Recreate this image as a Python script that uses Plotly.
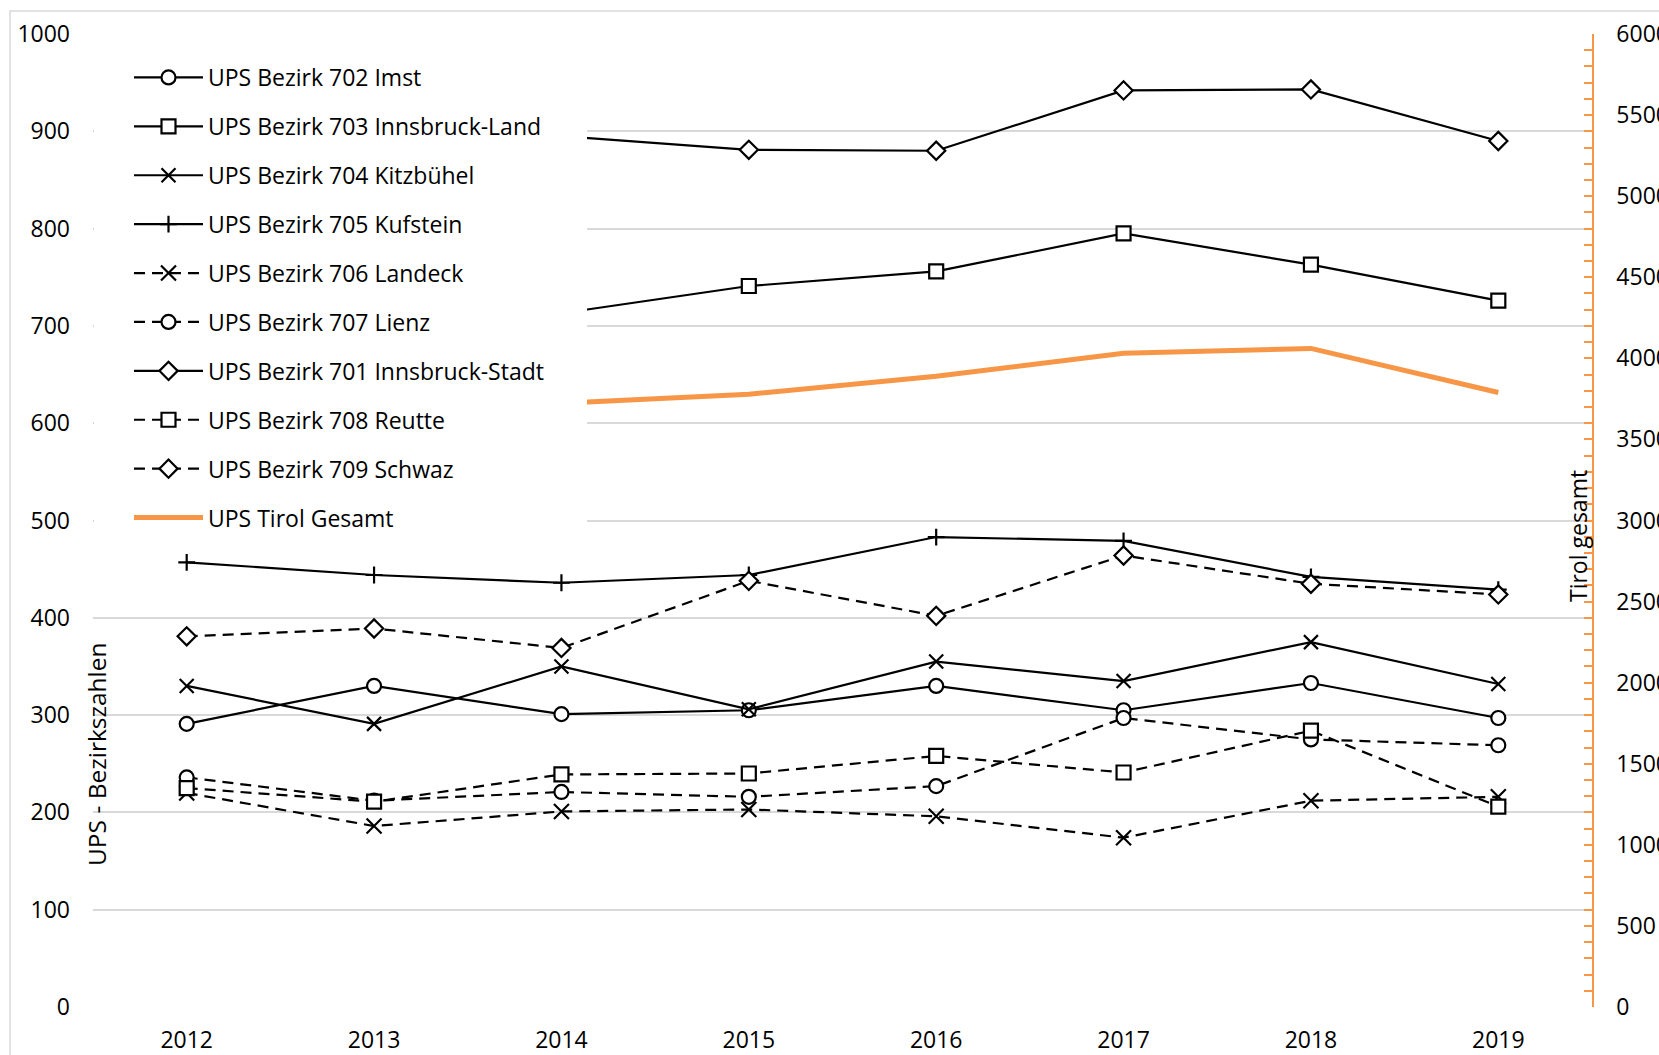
import plotly.graph_objects as go

# ---------------- data ----------------
years = ["2012", "2013", "2014", "2015", "2016", "2017", "2018", "2019"]

imst_702 = [291, 330, 301, 305, 330, 305, 333, 297]
ibk_land_703 = [690, 700, 713, 741, 756, 795, 763, 726]      # 2012/13 hidden behind legend (estimated)
kitzbuehel_704 = [330, 291, 350, 306, 355, 335, 375, 332]
kufstein_705 = [457, 444, 436, 444, 483, 479, 442, 429]
landeck_706 = [220, 186, 201, 203, 196, 174, 212, 216]
lienz_707 = [236, 212, 221, 216, 227, 297, 275, 269]
ibk_stadt_701 = [880, 890, 895, 881, 880, 942, 943, 890]      # 2012/13 hidden behind legend (estimated)
reutte_708 = [225, 211, 239, 240, 258, 241, 284, 206]
schwaz_709 = [381, 389, 369, 438, 402, 464, 435, 424]
tirol_gesamt = [3710, 3655, 3723, 3779, 3890, 4031, 4061, 3789]  # 2012/13 hidden (estimated)

left_ticks = [0, 100, 200, 300, 400, 500, 600, 700, 800, 900, 1000]
right_ticks = [0, 500, 1000, 1500, 2000, 2500, 3000, 3500, 4000, 4500, 5000, 5500, 6000]

# ---------------- layout geometry (pixels) ----------------
W, H = 1659, 1055
L, R, T, B = 93, 1592, 34, 1007
FONT = "Open Sans"
ORANGE = "#F79646"
GRID = "#D9D9D9"


def px_x(px):
    return (px - L) / (R - L)


def px_y(py):
    return (B - py) / (B - T)


series = [
    ("UPS Bezirk 702 Imst", imst_702, "circle", "solid", 14),
    ("UPS Bezirk 703 Innsbruck-Land", ibk_land_703, "square", "solid", 14),
    ("UPS Bezirk 704 Kitzbühel", kitzbuehel_704, "x-thin", "solid", 14),
    ("UPS Bezirk 705 Kufstein", kufstein_705, "cross-thin", "solid", 12),
    ("UPS Bezirk 706 Landeck", landeck_706, "x-thin", "dash", 15),
    ("UPS Bezirk 707 Lienz", lienz_707, "circle", "dash", 14),
    ("UPS Bezirk 701 Innsbruck-Stadt", ibk_stadt_701, "diamond", "solid", 14),
    ("UPS Bezirk 708 Reutte", reutte_708, "square", "dash", 14),
    ("UPS Bezirk 709 Schwaz", schwaz_709, "diamond", "dash", 14),
]

fig = go.Figure()

for name, vals, sym, dash, size in series:
    thin = sym.endswith("-thin")
    fig.add_trace(go.Scatter(
        x=years, y=vals, name=name, legendgroup=name,
        mode="lines+markers",
        line=dict(color="black", width=2.2, dash="11px,7px" if dash == "dash" else "solid"),
        marker=dict(symbol=sym, size=size,
                    color="black" if thin else "white",
                    line=dict(color="black", width=2.2)),
        yaxis="y",
    ))

fig.add_trace(go.Scatter(
    x=years, y=tirol_gesamt, name="UPS Tirol Gesamt", legendgroup="tirol",
    mode="lines", line=dict(color=ORANGE, width=5), yaxis="y2",
))

# white box that hides the lines behind the legend (as in the reference)
shapes = [
    dict(type="rect", xref="paper", yref="paper",
         x0=px_x(L + 1), x1=px_x(587), y0=px_y(540), y1=px_y(45),
         fillcolor="white", line=dict(width=0), layer="above"),
    # outer chart border
    dict(type="rect", xref="paper", yref="paper",
         x0=px_x(10), x1=px_x(1720), y0=px_y(1120), y1=px_y(11),
         fillcolor="rgba(0,0,0,0)", line=dict(color=GRID, width=1.5), layer="below"),
]

annotations = [
    dict(text="UPS - Bezirkszahlen", textangle=-90, xref="paper", yref="paper",
         x=px_x(96), y=px_y(754), xanchor="center", yanchor="middle",
         showarrow=False, font=dict(family=FONT, size=24.5, color="black")),
    dict(text="Tirol gesamt", textangle=-90, xref="paper", yref="paper",
         x=px_x(1578), y=px_y(536), xanchor="center", yanchor="middle",
         showarrow=False, font=dict(family=FONT, size=23, color="black")),
]

fig.update_layout(
    width=W, height=H,
    margin=dict(l=L, r=W - R, t=T, b=H - B, pad=0),
    paper_bgcolor="white", plot_bgcolor="white",
    font=dict(family=FONT, size=23, color="black"),
    showlegend=True,
    legend=dict(
        x=px_x(129), y=px_y(56), xanchor="left", yanchor="top",
        bgcolor="rgba(0,0,0,0)", borderwidth=0,
        font=dict(family=FONT, size=23, color="black"),
        itemwidth=69, tracegroupgap=16,
        traceorder="grouped",
    ),
    xaxis=dict(
        type="category", categoryorder="array", categoryarray=years,
        range=[-0.5, 7.5], showgrid=False, showline=False, zeroline=False,
        ticks="", tickfont=dict(size=23), ticklabelstandoff=17, automargin=False,
    ),
    yaxis=dict(
        range=[0, 1000], tickvals=left_ticks, showgrid=True, gridcolor=GRID, gridwidth=1.5,
        showline=False, zeroline=False, ticks="", tickfont=dict(size=23),
        ticklabelstandoff=22, automargin=False,
    ),
    yaxis2=dict(
        range=[0, 6000], tickvals=right_ticks, overlaying="y", side="right",
        showgrid=False, zeroline=False, showline=True, linecolor=ORANGE, linewidth=1.5,
        ticks="inside", ticklen=8, tickcolor=ORANGE, tickwidth=1.5,
        minor=dict(dtick=100, ticks="inside", ticklen=8, tickcolor=ORANGE, tickwidth=1.5),
        tickfont=dict(size=23), ticklabelstandoff=18, automargin=False,
    ),
    shapes=shapes,
    annotations=annotations,
)

fig.write_html("out.html")
